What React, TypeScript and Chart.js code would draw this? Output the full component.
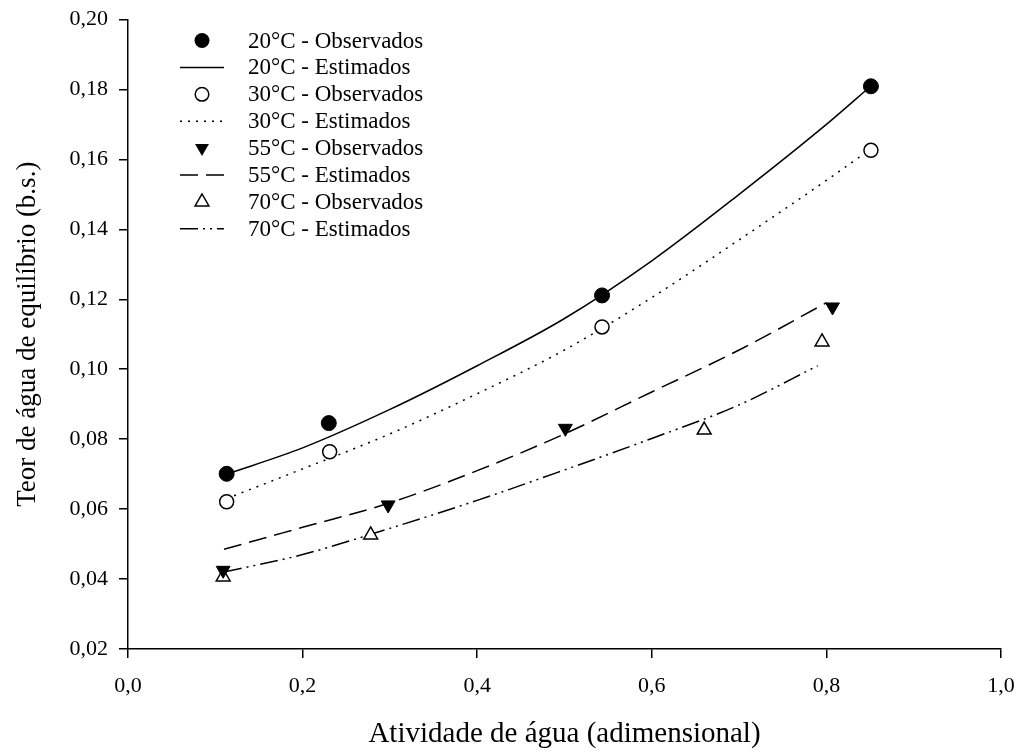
import React, { useEffect, useRef } from "react";
import { Chart, registerables } from "chart.js";

Chart.register(...registerables);

const FONT = '"Liberation Serif", "Times New Roman", Times, serif';

// Tick values
const xTickValues = [0, 0.2, 0.4, 0.6, 0.8, 1.0];
const yTickValues = [0.02, 0.04, 0.06, 0.08, 0.1, 0.12, 0.14, 0.16, 0.18, 0.2];

// Observed data
const obs20X = [0.113, 0.230, 0.543, 0.851];
const obs20Y = [0.0701, 0.0846, 0.1211, 0.1809];
const obs30X = [0.113, 0.231, 0.543, 0.851];
const obs30Y = [0.0621, 0.0764, 0.1121, 0.1626];
const obs55X = [0.109, 0.298, 0.501, 0.807];
const obs55Y = [0.0425, 0.0612, 0.0831, 0.1178];
const obs70X = [0.109, 0.278, 0.660, 0.795];
const obs70Y = [0.0406, 0.0526, 0.0826, 0.1078];

// Estimated (fitted) curves
const est20X = [0.113, 0.2, 0.3, 0.4, 0.5, 0.6, 0.7, 0.8, 0.851];
const est20Y = [0.070, 0.0775, 0.0885, 0.101, 0.1145, 0.131, 0.150, 0.170, 0.181];
const est30X = [0.113, 0.2, 0.3, 0.4, 0.5, 0.6, 0.7, 0.8, 0.851];
const est30Y = [0.063, 0.0715, 0.0815, 0.093, 0.1055, 0.1205, 0.137, 0.154, 0.163];
const est55X = [0.11, 0.2, 0.3, 0.4, 0.5, 0.6, 0.7, 0.8];
const est55Y = [0.0485, 0.0548, 0.0618, 0.071, 0.0815, 0.0935, 0.1055, 0.119];
const est70X = [0.11, 0.2, 0.3, 0.4, 0.5, 0.6, 0.7, 0.79];
const est70Y = [0.042, 0.047, 0.0545, 0.0625, 0.0712, 0.0802, 0.0898, 0.101];

const legendLabels = [
  "20°C - Observados",
  "20°C - Estimados",
  "30°C - Observados",
  "30°C - Estimados",
  "55°C - Observados",
  "55°C - Estimados",
  "70°C - Observados",
  "70°C - Estimados",
];

const xTitle = "Atividade de água (adimensional)";
const yTitle = "Teor de água de equilíbrio (b.s.)";

const DOT = [2, 6];
const DASH = [18, 8];
const DASHDOT = [18, 5, 2, 5, 2, 5];

const toPts = (xs: number[], ys: number[]) => xs.map((x, i) => ({ x, y: ys[i] }));

// legend style descriptors (in legend order)
const legendKinds = [
  { type: "point", shape: "circle", fill: true },
  { type: "line", dash: [] as number[] },
  { type: "point", shape: "circle", fill: false },
  { type: "line", dash: DOT },
  { type: "point", shape: "triDown", fill: true },
  { type: "line", dash: DASH },
  { type: "point", shape: "triUp", fill: false },
  { type: "line", dash: DASHDOT },
];

const legendPlugin = {
  id: "customLegend",
  afterDraw(chart: any) {
    const ctx = chart.ctx as CanvasRenderingContext2D;
    ctx.save();
    ctx.font = `23px ${FONT}`;
    ctx.textBaseline = "middle";
    ctx.textAlign = "left";
    legendLabels.forEach((label, i) => {
      const y = 40.5 + i * 26.9;
      const cx = 202;
      const k: any = legendKinds[i];
      ctx.strokeStyle = "#000";
      ctx.fillStyle = "#000";
      ctx.lineWidth = 1.5;
      if (k.type === "line") {
        ctx.setLineDash(k.dash);
        ctx.beginPath();
        ctx.moveTo(180, y);
        ctx.lineTo(224, y);
        ctx.stroke();
        ctx.setLineDash([]);
      } else {
        ctx.beginPath();
        if (k.shape === "circle") {
          ctx.arc(cx, y, k.fill ? 7.5 : 6.8, 0, Math.PI * 2);
        } else {
          const r = 8;
          const s = r * Math.sin(Math.PI / 3);
          if (k.shape === "triUp") {
            ctx.moveTo(cx, y - r);
            ctx.lineTo(cx - s, y + r / 2);
            ctx.lineTo(cx + s, y + r / 2);
          } else {
            ctx.moveTo(cx, y + r);
            ctx.lineTo(cx - s, y - r / 2);
            ctx.lineTo(cx + s, y - r / 2);
          }
          ctx.closePath();
        }
        if (k.fill) ctx.fill();
        else ctx.stroke();
      }
      ctx.fillStyle = "#000";
      ctx.fillText(label, 248, y + 1);
    });
    ctx.restore();
  },
};

export default function App() {
  const ref = useRef<HTMLCanvasElement | null>(null);

  useEffect(() => {
    if (!ref.current) return;
    const lineBase = {
      showLine: true,
      pointRadius: 0,
      pointHoverRadius: 0,
      borderColor: "#000",
      backgroundColor: "#000",
      borderWidth: 1.5,
      cubicInterpolationMode: "monotone" as const,
      fill: false,
      order: 2,
    };
    const chart = new Chart(ref.current, {
      type: "scatter",
      data: {
        datasets: [
          { ...lineBase, label: legendLabels[1], data: toPts(est20X, est20Y) },
          { ...lineBase, label: legendLabels[3], data: toPts(est30X, est30Y), borderDash: DOT },
          { ...lineBase, label: legendLabels[5], data: toPts(est55X, est55Y), borderDash: DASH },
          { ...lineBase, label: legendLabels[7], data: toPts(est70X, est70Y), borderDash: DASHDOT },
          {
            label: legendLabels[0],
            data: toPts(obs20X, obs20Y),
            pointStyle: "circle",
            pointRadius: 7.5,
            backgroundColor: "#000",
            borderColor: "#000",
            borderWidth: 1,
            order: 1,
          },
          {
            label: legendLabels[2],
            data: toPts(obs30X, obs30Y),
            pointStyle: "circle",
            pointRadius: 7,
            backgroundColor: "#fff",
            borderColor: "#000",
            borderWidth: 1.5,
            order: 1,
          },
          {
            label: legendLabels[4],
            data: toPts(obs55X, obs55Y),
            pointStyle: "triangle",
            pointRotation: 180,
            pointRadius: 8,
            backgroundColor: "#000",
            borderColor: "#000",
            borderWidth: 1,
            order: 1,
          },
          {
            label: legendLabels[6],
            data: toPts(obs70X, obs70Y),
            pointStyle: "triangle",
            pointRadius: 8,
            backgroundColor: "#fff",
            borderColor: "#000",
            borderWidth: 1.5,
            order: 1,
          },
        ] as any,
      },
      options: {
        responsive: false,
        animation: false,
        events: [],
        layout: { padding: { left: 0, top: 19.5, right: 19, bottom: 0 } },
        plugins: {
          legend: { display: false },
          tooltip: { enabled: false },
          title: { display: false },
        },
        scales: {
          x: {
            type: "linear",
            min: 0,
            max: 1,
            afterFit: (s: any) => {
              s.height = 104;
              s.paddingLeft = 0;
              s.paddingRight = 0;
            },
            afterBuildTicks: (s: any) => { s.ticks = xTickValues.map((v) => ({ value: v })); },
            ticks: {
              color: "#000",
              font: { family: FONT, size: 22 },
              padding: 15,
              callback: (v: any) => Number(v).toFixed(1).replace(".", ","),
            },
            grid: {
              display: true,
              drawOnChartArea: false,
              drawTicks: true,
              tickLength: 9,
              color: "#000",
              lineWidth: 1.5,
            },
            border: { display: true, color: "#000", width: 1.5 },
            title: {
              display: true,
              text: xTitle,
              color: "#000",
              font: { family: FONT, size: 29 },
              padding: { top: 0, bottom: 1 },
            },
          },
          y: {
            type: "linear",
            min: 0.02,
            max: 0.2,
            afterFit: (s: any) => {
              s.width = 128;
              s.paddingTop = 0;
              s.paddingBottom = 0;
            },
            afterBuildTicks: (s: any) => { s.ticks = yTickValues.map((v) => ({ value: v })); },
            ticks: {
              color: "#000",
              font: { family: FONT, size: 22 },
              padding: 11,
              callback: (v: any) => Number(v).toFixed(2).replace(".", ","),
            },
            grid: {
              display: true,
              drawOnChartArea: false,
              drawTicks: true,
              tickLength: 9,
              color: "#000",
              lineWidth: 1.5,
            },
            border: { display: true, color: "#000", width: 1.5 },
            title: {
              display: true,
              text: yTitle,
              color: "#000",
              font: { family: FONT, size: 27 },
              padding: { top: 12, bottom: 0 },
            },
          },
        },
      },
      plugins: [legendPlugin],
    });
    return () => chart.destroy();
  }, []);

  return (
    <div style={{ position: "absolute", left: 0, top: 0, width: 1020, height: 753, background: "#fff" }}>
      <canvas ref={ref} width={1020} height={753} style={{ display: "block" }} />
    </div>
  );
}
